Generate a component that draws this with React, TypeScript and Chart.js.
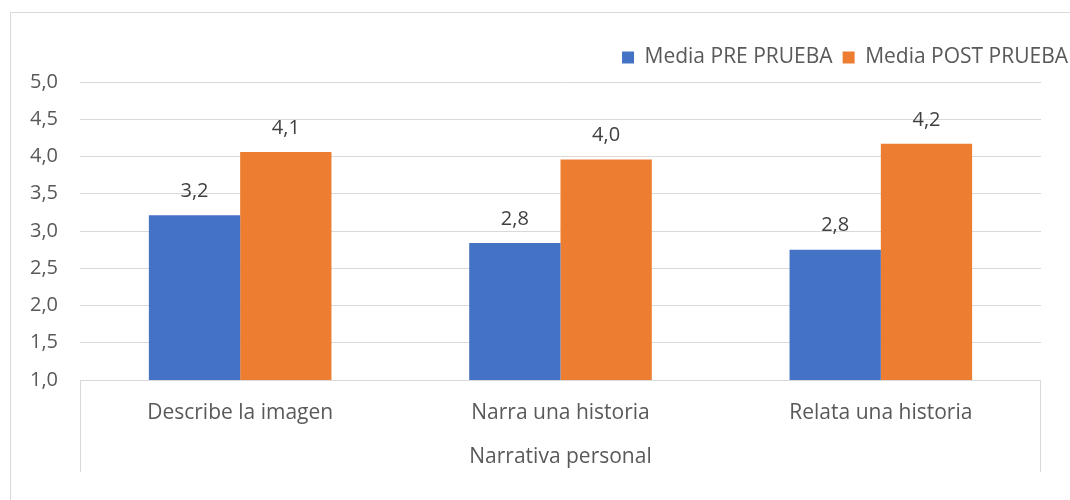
import React, { useEffect, useRef } from "react";
import { Chart, registerables } from "chart.js";

Chart.register(...registerables);

const categories = ["Describe la imagen", "Narra una historia", "Relata una historia"];
const groupLabel = "Narrativa personal";
const preSeries = [3.21, 2.84, 2.75];
const postSeries = [4.06, 3.96, 4.17];
const seriesNames = ["Media PRE PRUEBA", "Media POST PRUEBA"];
const seriesColors = ["#4472C4", "#ED7D31"];

const FONT = "'Open Sans', 'DejaVu Sans', sans-serif";
const fmt = (v: number) => v.toFixed(1).replace(".", ",");

const framePlugin = {
  id: "frame",
  beforeDraw(chart: any) {
    const { ctx, chartArea } = chart;
    ctx.save();
    ctx.strokeStyle = "#d9d9d9";
    ctx.lineWidth = 1;
    ctx.beginPath();
    ctx.moveTo(10.5, 600);
    ctx.lineTo(10.5, 12.5);
    ctx.lineTo(1200, 12.5);
    ctx.stroke();
    const l = Math.round(chartArea.left) + 0.5;
    const r = Math.round(chartArea.right) - 0.5;
    const b = Math.round(chartArea.bottom);
    ctx.beginPath();
    ctx.moveTo(l, b);
    ctx.lineTo(l, 472);
    ctx.moveTo(r, b);
    ctx.lineTo(r, 472);
    ctx.stroke();
    ctx.restore();
  },
};

const labelPlugin = {
  id: "barLabels",
  afterDatasetsDraw(chart: any) {
    const { ctx } = chart;
    ctx.save();
    ctx.font = `20px ${FONT}`;
    ctx.fillStyle = "#404040";
    ctx.textAlign = "center";
    ctx.textBaseline = "middle";
    chart.data.datasets.forEach((ds: any, di: number) => {
      const meta = chart.getDatasetMeta(di);
      meta.data.forEach((bar: any, i: number) => {
        ctx.fillText(fmt(ds.data[i]), bar.x, bar.y - 24);
      });
    });
    ctx.restore();
  },
};

export default function App() {
  const ref = useRef<HTMLCanvasElement>(null);
  useEffect(() => {
    const chart = new Chart(ref.current!, {
      type: "bar",
      data: {
        labels: categories,
        datasets: [
          { label: seriesNames[0], data: preSeries, backgroundColor: seriesColors[0], yAxisID: "y", xAxisID: "x" },
          { label: seriesNames[1], data: postSeries, backgroundColor: seriesColors[1], yAxisID: "y", xAxisID: "x" },
        ],
      },
      options: {
        animation: false,
        responsive: false,
        events: [],
        layout: { padding: { left: 10, top: 37, right: 0, bottom: 0 } },
        datasets: { bar: { categoryPercentage: 0.57, barPercentage: 1 } },
        plugins: {
          tooltip: { enabled: false },
          legend: {
            position: "top",
            align: "end",
            labels: {
              boxWidth: 12,
              boxHeight: 12,
              padding: 10,
              color: "#595959",
              font: { family: FONT, size: 21 },
            },
          },
        },
        scales: {
          x: {
            grid: { display: false },
            border: { display: false },
            ticks: { color: "#595959", font: { family: FONT, size: 21 }, padding: 12, maxRotation: 0 },
            title: {
              display: true,
              text: groupLabel,
              color: "#595959",
              font: { family: FONT, size: 21 },
              padding: { top: 0, bottom: 30 },
            },
            afterFit: (s: any) => { s.height = 120; },
          },
          xTop: {
            type: "category",
            position: "top",
            display: true,
            grid: { display: false },
            border: { display: false },
            ticks: { display: false },
            afterFit: (s: any) => { s.height = 4; },
          },
          y: {
            min: 1,
            max: 5,
            grid: { color: "#d9d9d9", drawTicks: false },
            border: { display: false },
            ticks: {
              stepSize: 0.5,
              padding: 22,
              color: "#595959",
              font: { family: FONT, size: 20 },
              callback: (v: any) => fmt(Number(v)),
            },
            afterFit: (s: any) => { s.width = 70; },
          },
          y2: {
            position: "right",
            display: true,
            grid: { display: false },
            border: { display: false },
            ticks: { display: false },
            afterFit: (s: any) => { s.width = 37; },
          },
        },
      },
      plugins: [framePlugin, labelPlugin],
    });
    return () => chart.destroy();
  }, []);
  return (
    <div style={{ position: "absolute", left: 0, top: 0, width: 1070, height: 500, overflow: "hidden", background: "#fff" }}>
      <canvas ref={ref} width={1078} height={500} style={{ display: "block" }} />
    </div>
  );
}
